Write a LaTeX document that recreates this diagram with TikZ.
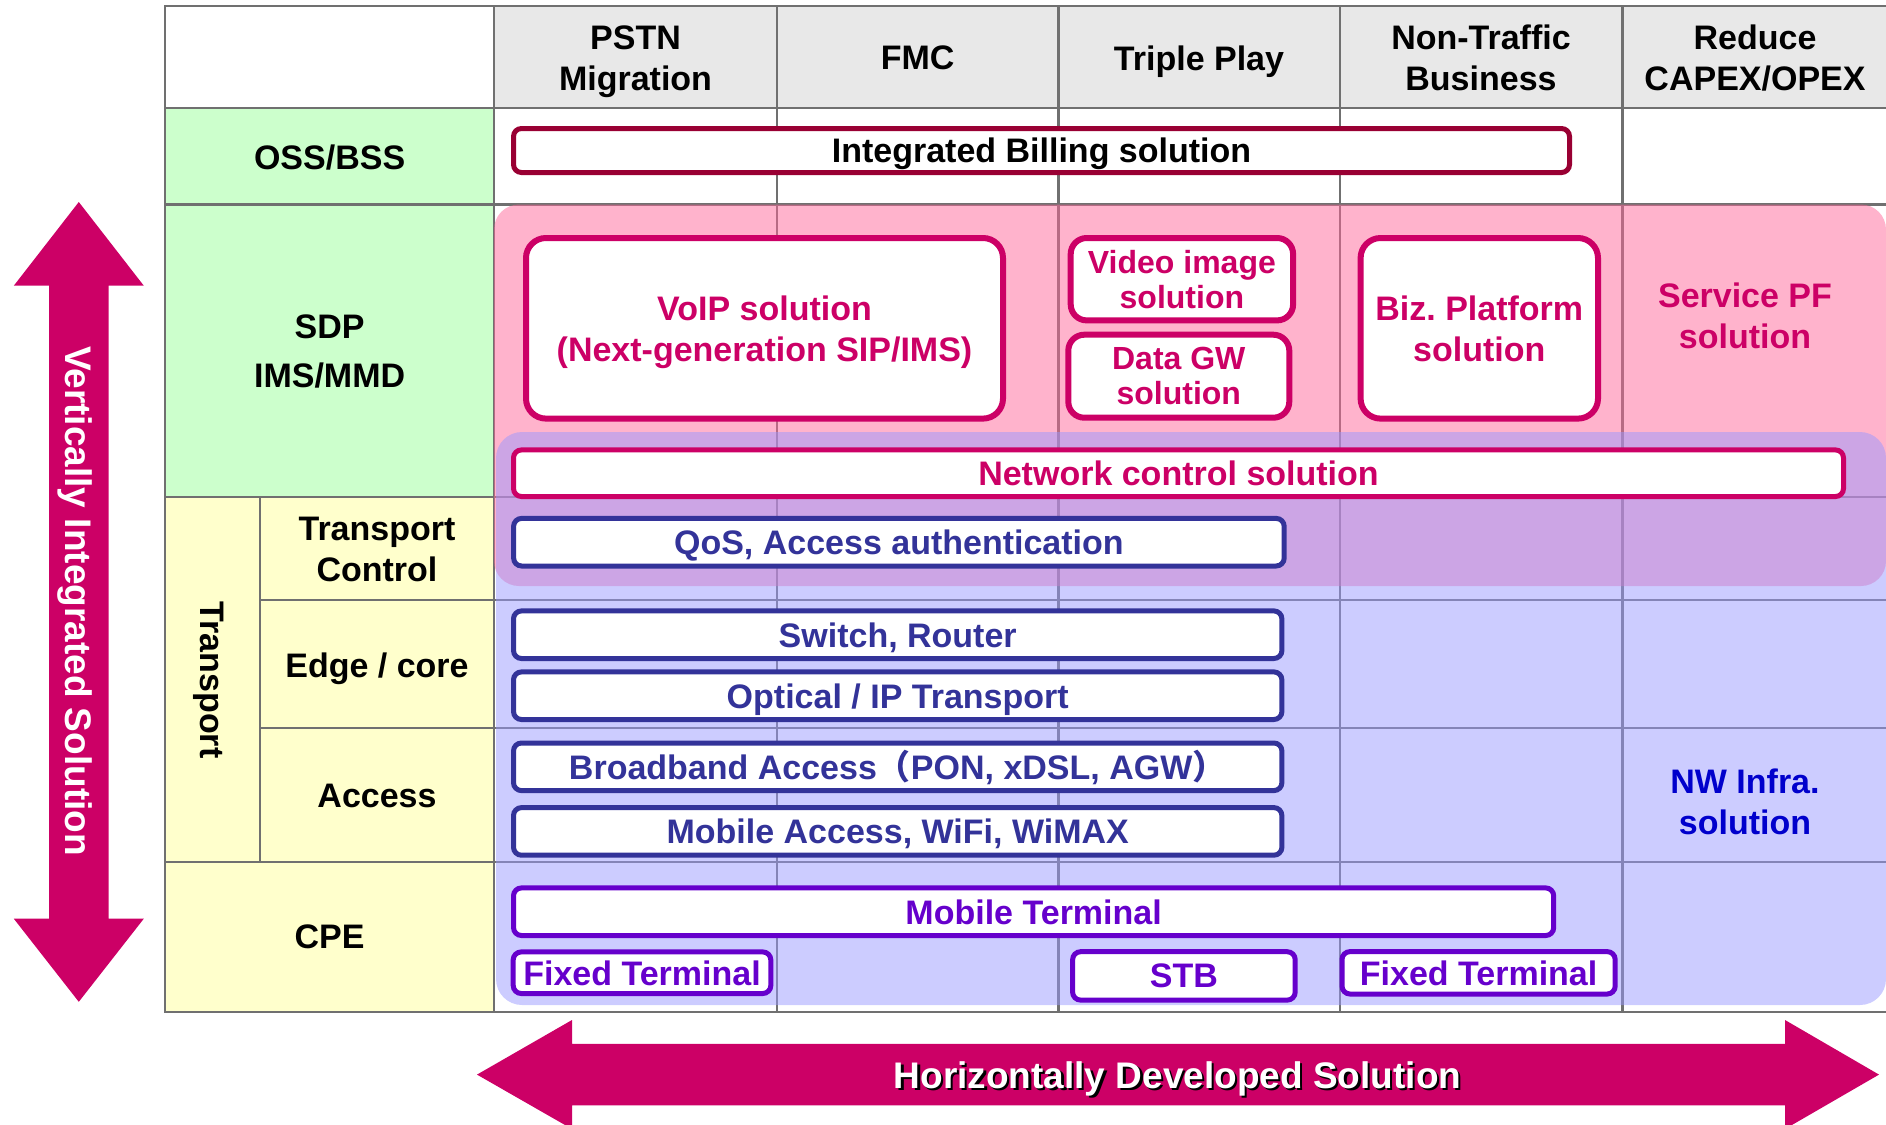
\documentclass[tikz,border=0pt]{standalone}
\usepackage{fontspec}
\setmainfont{Liberation Sans}
\newfontfamily\cjkfont{Noto Sans CJK JP}
\usepackage{tikz}
\usetikzlibrary{positioning, calc}

% 颜色定义
\definecolor{gridgray}{RGB}{112,112,112}   % 表格线
\definecolor{headgray}{RGB}{232,232,232}   % 表头
\definecolor{lblgreen}{RGB}{204,255,204}   % OSS/SDP 标签
\definecolor{lblyellow}{RGB}{255,255,204}  % Transport/CPE 标签
\definecolor{sdppink}{RGB}{255,103,153}    % SDP 区域(半透明)
\definecolor{nwblue}{RGB}{153,153,255}     % NW 区域(半透明)
\definecolor{billred}{RGB}{153,0,51}
\definecolor{magentared}{RGB}{204,0,102}
\definecolor{navyblue}{RGB}{51,51,153}
\definecolor{termpurple}{RGB}{102,0,204}
\definecolor{infrablue}{RGB}{0,0,204}

% 带阴影的文字
\newcommand{\shadowed}[2]{\makebox[0pt][l]{\hspace{1.1pt}\raisebox{-1.1pt}{\textcolor{#1}{#2}}}#2}

\begin{document}
\begin{tikzpicture}[x=0.5pt, y=-0.5pt, % 坐标按像素,y 轴向下
  font=\fontsize{17}{20.5}\selectfont\bfseries,
  gridline/.style={draw=gridgray, line width=1.25pt},
  solbox/.style={draw=#1, text=#1, fill=white, line width=2.5pt, rounded corners=4pt, inner sep=0pt, align=center, text depth=0pt},
  bigbox/.style={solbox=#1, line width=3pt, rounded corners=10pt},
  lbl/.style={align=center, inner sep=0pt, text depth=0pt},
  bigarrow/.style={fill=magentared}]

\path[use as bounding box] (0,0) rectangle (1886,1125);
\clip (0,0) rectangle (1886,1125);

% 单元格底色
\fill[headgray] (494,6) rectangle (1887,108);
\fill[lblgreen] (165,108) rectangle (494,497);
\fill[lblyellow] (165,497) rectangle (494,1012);

% 表格线
\draw[gridline] (165,6) rectangle (1887,1012);
\draw[gridline] (165,108) -- (1887,108);
\draw[gridline] (165,204.5) -- (1887,204.5);
\draw[gridline] (165,497) -- (1887,497);
\draw[gridline] (260,600) -- (1887,600);
\draw[gridline] (260,728) -- (1887,728);
\draw[gridline] (165,862) -- (1887,862);
\draw[gridline] (260,497) -- (260,862);
\foreach \cx in {494,777,1058.5,1340,1622.6}
  \draw[gridline] (\cx,6) -- (\cx,1012);

% 半透明区域:SDP(粉)与 NW(蓝),重叠处为紫
\fill[sdppink, fill opacity=0.5, rounded corners=12.5pt] (494,204.5) rectangle (1886,586);
\fill[nwblue, fill opacity=0.5, rounded corners=13pt] (496,432) rectangle (1886,1005);

% 表头
\node[lbl] (hpstn)   at (635.5,58)  {PSTN\\Migration};
\node[lbl] (hfmc)    at (917.7,58)  {FMC};
\node[lbl] (htriple) at (1199,58)   {Triple Play};
\node[lbl] (hnontr)  at (1481,58)   {Non-Traffic\\Business};
\node[lbl] (hreduce) at (1755,58)   {Reduce\\CAPEX/OPEX};

% 左侧标签
\node[lbl] (loss)  at (329.6,157)  {OSS/BSS};
\node[lbl, font=\fontsize{17}{24.5}\selectfont\bfseries] (lsdp) at (329.6,351.5) {SDP\\IMS/MMD};
\node[lbl, rotate=-90] (ltrans) at (212,680) {Transport};
\node[lbl] (ltc)   at (377,549)  {Transport\\Control};
\node[lbl] (ledge) at (377,665)  {Edge / core};
\node[lbl] (lacc)  at (377,796)  {Access};
\node[lbl] (lcpe)  at (329.6,937) {CPE};

% OSS/BSS
\node[solbox=billred, text=black, minimum width=528pt, minimum height=22pt] (billing) at (1041.5,150.5) {Integrated Billing solution};

% SDP
\node[bigbox=magentared, minimum width=238.5pt, minimum height=90.3pt] (voip) at (764.5,328.3) {VoIP solution\\(Next-generation SIP/IMS)};
\node[bigbox=magentared, rounded corners=8pt, font=\fontsize{16}{17.5}\selectfont\bfseries, minimum width=111.2pt, minimum height=41.2pt] (video) at (1181.9,279.2) {Video image\\solution};
\node[bigbox=magentared, rounded corners=8pt, font=\fontsize{16}{17.5}\selectfont\bfseries, minimum width=110.5pt, minimum height=41.5pt] (datagw) at (1178.8,376.2) {Data GW\\solution};
\node[bigbox=magentared, minimum width=118.7pt, minimum height=90.3pt] (biz) at (1479.3,328.3) {Biz.\ Platform\\solution};
\node[lbl, text=magentared] (servicepf) at (1745,316) {Service PF\\solution};
\node[solbox=magentared, minimum width=665pt, minimum height=23.3pt] (netctrl) at (1178.5,473.2) {Network control solution};

% Transport
\node[solbox=navyblue, minimum width=385.3pt, minimum height=23.8pt] (qos) at (898.9,542.2) {QoS, Access authentication};
\node[solbox=navyblue, minimum width=384.2pt, minimum height=23.8pt] (switch) at (897.7,634.7) {Switch, Router};
\node[solbox=navyblue, minimum width=384.2pt, minimum height=23.8pt] (optical) at (897.7,695.7) {Optical / IP Transport};
\node[solbox=navyblue, minimum width=384.2pt, minimum height=23.8pt] (broadband) at (897.7,766.8) {Broadband Access\smash{{\cjkfont （}}PON, xDSL, AGW\smash{{\cjkfont ）}}};
\node[solbox=navyblue, minimum width=384.2pt, minimum height=23.8pt] (mobacc) at (897.7,831.4) {Mobile Access, WiFi, WiMAX};
\node[lbl, text=infrablue] (nwinfra) at (1745,802) {NW Infra.\\solution};

% CPE
\node[solbox=termpurple, minimum width=520.1pt, minimum height=23.8pt] (mobterm) at (1033.6,911.7) {Mobile Terminal};
\node[solbox=termpurple, minimum width=128.8pt, minimum height=20.8pt] (fixedl) at (642,972.7) {Fixed Terminal};
\node[solbox=termpurple, minimum width=111.3pt, minimum height=24.2pt] (stb) at (1183.9,975.9) {STB};
\node[solbox=termpurple, minimum width=136.6pt, minimum height=21.2pt] (fixedr) at (1478.6,972.8) {Fixed Terminal};

% 纵向双箭头
\fill[bigarrow] (78.8,202) -- (143.8,285.7) -- (108.5,285.7) -- (108.5,918.7) -- (143.8,918.7)
  -- (78.8,1001.8) -- (13.8,918.7) -- (49,918.7) -- (49,285.7) -- (13.8,285.7) -- cycle;
\node[lbl, rotate=-90, text=white, font=\fontsize{18.5}{22}\selectfont\bfseries] (vert) at (78.8,601) {Vertically Integrated Solution};

% 横向双箭头
\fill[bigarrow] (477,1074.6) -- (572,1020) -- (572,1043.8) -- (1785,1043.8) -- (1785,1020)
  -- (1879,1074.6) -- (1785,1129) -- (1785,1105.4) -- (572,1105.4) -- (572,1129) -- cycle;
\node[lbl, text=white, font=\fontsize{18.5}{22}\selectfont\bfseries] (horiz) at (1177.5,1074.6) {\shadowed{black}{Horizontally Developed Solution}};
\end{tikzpicture}
\end{document}
